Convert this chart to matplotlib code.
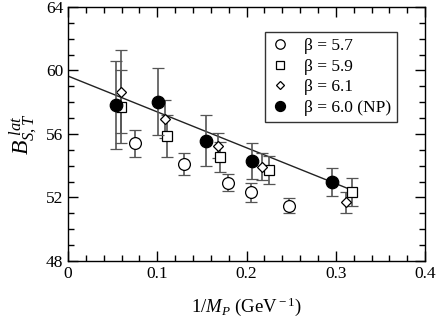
import matplotlib
matplotlib.use("Agg")
import matplotlib.pyplot as plt
from matplotlib.ticker import MultipleLocator

plt.rcParams['font.family'] = ['Liberation Serif', 'DejaVu Serif']
plt.rcParams['mathtext.fontset'] = 'custom'
plt.rcParams['mathtext.rm'] = 'Liberation Serif'
plt.rcParams['mathtext.it'] = 'Liberation Serif:italic'

# beta = 5.7 (open circles)
x57 = [0.075, 0.130, 0.179, 0.205, 0.247]
y57 = [55.41, 54.10, 52.94, 52.33, 51.48]
e57 = [0.87, 0.68, 0.56, 0.60, 0.47]
# beta = 5.9 (squares)
x59 = [0.0594, 0.1105, 0.170, 0.2254, 0.318]
y59 = [57.72, 55.87, 54.55, 53.73, 52.33]
e59 = [2.30, 1.30, 0.95, 0.86, 0.87]
# beta = 6.1 (diamonds)
x61 = [0.0594, 0.109, 0.1684, 0.2176, 0.311]
y61 = [58.67, 56.93, 55.26, 53.94, 51.70]
e61 = [2.60, 1.20, 0.80, 0.85, 0.66]
# beta = 6.0 NP (filled circles)
x60 = [0.0538, 0.1004, 0.155, 0.2064, 0.296]
y60 = [57.83, 58.03, 55.58, 54.30, 52.96]
e60 = [2.77, 2.10, 1.60, 1.15, 0.87]
# linear fit
fit_x = [0.0, 0.32]
fit_y = [59.65, 59.65 - 22.6 * 0.32]

fig = plt.figure(figsize=(4.36, 3.19), dpi=100)
ax = fig.add_axes([0.156, 0.182, 0.819, 0.796])

ax.plot(fit_x, fit_y, color='#222222', lw=1.0, zorder=2)

ekw = dict(ecolor='#555555', elinewidth=1.2, capsize=4, capthick=1.2, ls='none')
ax.errorbar(x57, y57, yerr=e57, marker='o', ms=8.5, mfc='white', mec='black', mew=0.9,
            label=r'β = 5.7', zorder=3, **ekw)
ax.errorbar(x59, y59, yerr=e59, marker='s', ms=6.5, mfc='white', mec='black', mew=0.9,
            label=r'β = 5.9', zorder=3, **ekw)
ax.errorbar(x61, y61, yerr=e61, marker='D', ms=5.5, mfc='white', mec='black', mew=0.9,
            label=r'β = 6.1', zorder=3, **ekw)
ax.errorbar(x60, y60, yerr=e60, marker='o', ms=9, mfc='black', mec='black', mew=0.9,
            label=r'β = 6.0 (NP)', zorder=4, **ekw)

ax.set_xlim(0, 0.4)
ax.set_ylim(48, 64)
ax.xaxis.set_major_locator(MultipleLocator(0.1))
ax.xaxis.set_minor_locator(MultipleLocator(0.02))
ax.yaxis.set_major_locator(MultipleLocator(4))
ax.yaxis.set_minor_locator(MultipleLocator(1))
ax.set_xticks([0, 0.1, 0.2, 0.3, 0.4])
ax.set_xticklabels(['0', '0.1', '0.2', '0.3', '0.4'])
ax.tick_params(which='both', direction='in', top=True, right=True, labelsize=12.5, width=1)
ax.tick_params(which='major', length=7)
ax.tick_params(which='minor', length=4)
for s in ax.spines.values():
    s.set_linewidth(1.0)

ax.set_xlabel(r'1/$M_P$ (GeV$^{\rm -1}$)', fontsize=13.5, labelpad=10)
ax.set_ylabel(r'$B_{S,T}^{\ lat}$', fontsize=17, labelpad=4)

handles, labels = ax.get_legend_handles_labels()
handles = [h[0] for h in handles]
leg = ax.legend(handles, labels, loc='upper right', bbox_to_anchor=(0.922, 0.902),
                fontsize=12.5, frameon=True, fancybox=False, edgecolor='black',
                markerscale=0.8, handlelength=1.0, handletextpad=0.9, borderpad=0.35,
                labelspacing=0.25, borderaxespad=0)
leg.get_frame().set_linewidth(1.0)

fig.savefig('out.png', dpi=100)
